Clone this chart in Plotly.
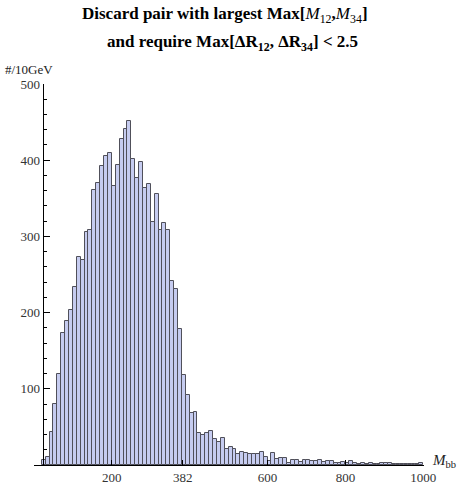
import plotly.graph_objects as go

# bin left edges (10 GeV bins) and counts
bin_left = list(range(20, 1000, 10))
counts = [
    6, 10, 43, 80, 120, 173, 189, 204, 234, 273,
    269, 306, 309, 361, 370, 393, 406, 410, 366, 394,
    428, 441, 452, 402, 376, 397, 364, 369, 319, 356,
    309, 317, 309, 241, 231, 178, 118, 92, 68, 69,
    42, 39, 42, 44, 34, 30, 36, 21, 24, 21,
    15, 17, 16, 14, 15, 14, 17, 10, 5, 16,
    8, 9, 9, 3, 6, 6, 4, 6, 6, 5,
    5, 6, 4, 5, 5, 3, 3, 4, 2, 5,
    2, 1, 2, 1, 2, 1, 1, 3, 2, 2,
    1, 1, 1, 1, 1, 1, 1, 3,
]
x_ticks = [200, 382, 600, 800, 1000]
y_ticks = [100, 200, 300, 400, 500]

bin_width = 10
centers = [b + bin_width / 2 for b in bin_left]

fig = go.Figure()
fig.add_trace(go.Bar(
    x=centers, y=counts, width=bin_width,
    marker=dict(color="#c6ccf0", line=dict(color="#50505a", width=1)),
    hoverinfo="skip",
))

font_serif = "Liberation Serif, Times New Roman, serif"
W, H = 459, 487
ml, mr, mt, mb = 34, 35, 84, 22
ph = H - mt - mb
pw = W - ml - mr

fig.update_layout(
    width=W, height=H,
    margin=dict(l=ml, r=mr, t=mt, b=mb, autoexpand=False),
    paper_bgcolor="white", plot_bgcolor="white",
    showlegend=False, bargap=0,
    font=dict(family=font_serif, size=13, color="#222"),
    xaxis=dict(
        range=[0, 1002], showgrid=False, zeroline=False, automargin=False,
        showline=True, linecolor="black", linewidth=1,
        ticks="inside", ticklen=5, tickcolor="black",
        tickvals=x_ticks, ticktext=[str(v) for v in x_ticks],
        tickfont=dict(family=font_serif, size=13, color="#333"),
    ),
    yaxis=dict(
        range=[0, 500], showgrid=False, zeroline=False, automargin=False,
        showline=True, linecolor="black", linewidth=1,
        anchor="free", position=22 / 1002,
        ticks="inside", ticklen=6, tickcolor="black",
        tickvals=y_ticks, ticktext=[str(v) for v in y_ticks],
        tickfont=dict(family=font_serif, size=13, color="#333"),
        minor=dict(dtick=20, tick0=0, ticks="inside", ticklen=3, tickcolor="black"),
    ),
)

def py(ypix):
    return (H - mb - ypix) / ph

def px(xpix):
    return (xpix - ml) / pw

fig.add_annotation(
    x=px(225), y=py(15), xref="paper", yref="paper",
    xanchor="center", yanchor="middle", showarrow=False,
    text="<b>Discard pair with largest Max[</b><i>M</i><sub>12</sub><b>,</b><i>M</i><sub>34</sub><b>]</b>",
    font=dict(family=font_serif, size=17, color="black"),
)
fig.add_annotation(
    x=px(232), y=py(43), xref="paper", yref="paper",
    xanchor="center", yanchor="middle", showarrow=False,
    text="<b>and require Max[ΔR<sub>12</sub>, ΔR<sub>34</sub>] &lt; 2.5</b>",
    font=dict(family=font_serif, size=17, color="black"),
)
fig.add_annotation(
    x=px(3), y=py(70), xref="paper", yref="paper",
    xanchor="left", yanchor="middle", showarrow=False,
    text="#/10GeV",
    font=dict(family=font_serif, size=13, color="#222"),
)
fig.add_annotation(
    x=px(430), y=py(461), xref="paper", yref="paper",
    xanchor="left", yanchor="middle", showarrow=False,
    text="<i>M</i><sub>bb</sub>",
    font=dict(family=font_serif, size=15, color="#222"),
)

fig.write_html(
    "out.html",
    config={"displayModeBar": False},
    post_script="document.body.style.margin='0px';",
)
